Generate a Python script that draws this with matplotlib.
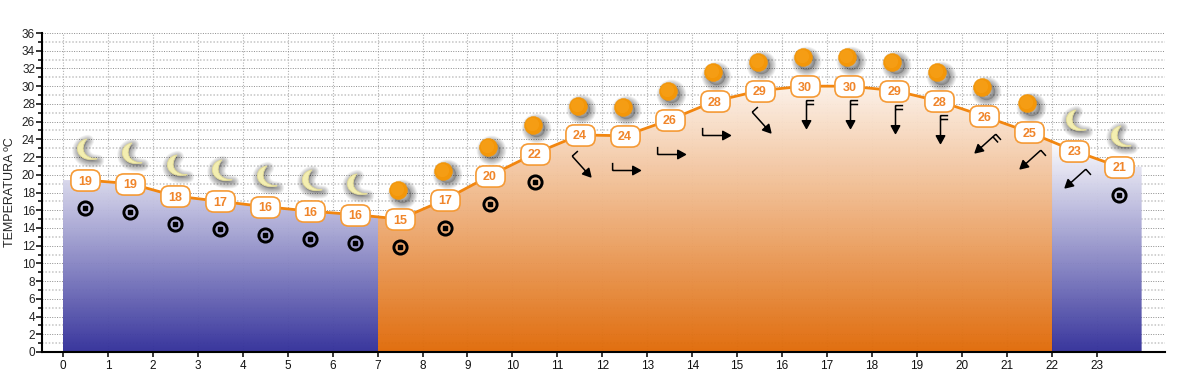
import numpy as np
import matplotlib
matplotlib.use("Agg")
import matplotlib.pyplot as plt
from matplotlib.markers import MarkerStyle
from matplotlib.patches import BoxStyle, Polygon
from matplotlib.path import Path
from matplotlib.transforms import Affine2D, ScaledTranslation

plt.rcParams['font.family'] = ['Liberation Sans', 'DejaVu Sans']

DPI = 100

hours = [h + 0.5 for h in range(24)]
temps = [19.4, 19.0, 17.6, 17.0, 16.4, 15.9, 15.5, 15.0, 17.2, 19.9, 22.4, 24.5,
         24.4, 26.2, 28.3, 29.5, 30.0, 30.0, 29.5, 28.3, 26.6, 24.8, 22.7, 20.9]
temp_labels = [19, 19, 18, 17, 16, 16, 16, 15, 17, 20, 22, 24,
               24, 26, 28, 29, 30, 30, 29, 28, 26, 25, 23, 21]
wind_dirs = [None] * 11 + ["SE", "E", "E", "E", "SE", "S", "S", "S", "S", "SW", "SW", "SW", None]
wind_barbs = [0] * 11 + [1, 1, 1, 1, 1, 2, 2, 2, 2, 2, 1, 1, 0]
SUNRISE = 7
SUNSET = 22

# pixels under the label, the picture places each direction a bit differently
WIND_DROP = {"E": 34, "SE": 31, "S": 28, "SW": 27}
WIND_ANGLE = {"E": 0, "SE": -48, "S": -90, "SW": -138}


def shifted(ax, dx, dy):
    return ax.transData + ScaledTranslation(dx / DPI, dy / DPI, fig.dpi_scale_trans)


def gradient(bottom, top, ymax):
    c0 = np.array(matplotlib.colors.to_rgb(bottom))
    c1 = np.array(matplotlib.colors.to_rgb(top))
    t = np.linspace(0, 1, 256)[:, None]
    return (c0 + (c1 - c0) * t)[:, None, :], ymax


def moon_path():
    verts = [(0.12, 1.0), (-1.2, 0.8), (-0.95, -1.15), (1.0, -0.72),
             (0.0, -0.72), (-0.62, 0.05), (0.12, 1.0), (0.12, 1.0)]
    codes = [Path.MOVETO, Path.CURVE4, Path.CURVE4, Path.CURVE4,
             Path.CURVE4, Path.CURVE4, Path.CURVE4, Path.CLOSEPOLY]
    return Path(verts, codes)


def arrow_path(barbs):
    # shaft along +x, tail at -1, one closed head at +1
    verts = [(-1, 0), (0.6, 0), (0.45, 0.3), (1, 0), (0.45, -0.3), (0.45, 0.3)]
    codes = [Path.MOVETO, Path.LINETO, Path.MOVETO, Path.LINETO, Path.LINETO, Path.CLOSEPOLY]
    for i in range(barbs):
        tail = -1 + i * 0.28
        verts += [(tail, 0), (tail, 0.55)]
        codes += [Path.MOVETO, Path.LINETO]
    return Path(verts, codes)


def label_box():
    return BoxStyle("Round", pad=0, rounding_size=8)(-14.5, -10.5, 29, 21, 1)


def soft_shadow(xs, ys, marker, size, dx, dy):
    # stacked faint copies stand in for the blur of the original drop shadow
    for w in np.arange(9, 0, -1):
        ax.plot(xs, ys, linestyle='none', marker=marker, markersize=size, markerfacecolor='none',
                markeredgecolor='k', markeredgewidth=w, alpha=0.045, zorder=4,
                transform=shifted(ax, dx, dy))
    ax.plot(xs, ys, linestyle='none', marker=marker, markersize=size, markerfacecolor='k',
            markeredgecolor='none', alpha=0.2, zorder=4, transform=shifted(ax, dx, dy))


fig = plt.figure(figsize=(12, 3.76), dpi=DPI)
ax = fig.add_axes([42 / 1200, 24 / 376, (1165 - 42) / 1200, (352 - 33) / 376])
ax.set_xlim(-0.467, 24.52)
ax.set_ylim(0, 36)

ax.set_yticks(np.arange(0, 37, 2))
ax.set_yticks(np.arange(1, 36, 2), minor=True)
ax.set_xticks(range(0, 24))
ax.grid(True, which='major', axis='y', color='#8c8c8c', linestyle=(0, (1, 1.5)), linewidth=0.7, zorder=0)
ax.grid(True, which='minor', axis='y', color='#c4c4c4', linestyle=(0, (1, 1.2)), linewidth=1.1, zorder=0)
ax.grid(True, which='major', axis='x', color='#b0b0b0', linestyle=(0, (1, 1.5)), linewidth=0.8, zorder=0)
ax.set_axisbelow(True)

ax.spines['top'].set_visible(False)
ax.spines['right'].set_visible(False)
ax.spines['left'].set_linewidth(1.5)
ax.spines['bottom'].set_linewidth(1.5)
ax.tick_params(axis='y', which='major', length=4.5, width=1.1, labelsize=8.5, pad=0.5, labelcolor='#222222')
ax.tick_params(axis='y', which='minor', length=3, width=1.1)
ax.tick_params(axis='x', which='both', length=3.5, width=1.1, labelsize=8.5, pad=2, labelcolor='#111111')
ax.set_ylabel("TEMPERATURA ºC", fontsize=9, color='#222222', labelpad=0)
ax.yaxis.set_label_coords(-26 / 1123, 0.5)

# area under the line, one vertical fade for night and one for day
area_x = [0] + hours + [24]
area_y = [temps[0]] + temps + [temps[-1]]
area = Polygon(list(zip(area_x, area_y)) + [(24, 0), (0, 0)], closed=True,
               transform=ax.transData, facecolor='none', edgecolor='none')
ax.add_patch(area)
night, night_top = gradient('#33309a', '#ffffff', 24)
day, day_top = gradient('#e06a08', '#ffffff', 33)
for x0, x1, img, top in [(0, SUNRISE, night, night_top), (SUNRISE, SUNSET, day, day_top),
                         (SUNSET, 24, night, night_top)]:
    im = ax.imshow(img, extent=[x0, x1, 0, top], origin='lower', aspect='auto',
                   interpolation='bilinear', alpha=0.97, zorder=1)
    im.set_clip_path(area)
ax.set_xlim(-0.467, 24.52)
ax.set_ylim(0, 36)

ax.plot(hours, temps, color='#f2860f', linewidth=2.0, zorder=3, solid_capstyle='round')

# sky icons about 30 px above the labels
is_day = [SUNRISE <= h < SUNSET for h in hours]
moon_x = [h for h, d in zip(hours, is_day) if not d]
moon_y = [t for t, d in zip(temps, is_day) if not d]
sun_x = [h for h, d in zip(hours, is_day) if d]
sun_y = [t for t, d in zip(temps, is_day) if d]

soft_shadow(moon_x, moon_y, moon_path(), 19.9, 1, 28)
soft_shadow(sun_x, sun_y, 'o', 12.5, 1.5, 25.5)
ax.plot(moon_x, moon_y, linestyle='none', marker=moon_path(), markersize=19.9, markerfacecolor='#f3eeb0',
        markeredgecolor='#e4dc98', markeredgewidth=0.6, zorder=5, transform=shifted(ax, 0, 30))
ax.plot(sun_x, sun_y, linestyle='none', marker='o', markersize=13, markerfacecolor='#f39608',
        markeredgecolor='#f39608', markeredgewidth=0.3, zorder=5, transform=shifted(ax, -2, 29))
ax.plot(sun_x, sun_y, linestyle='none', marker='o', markersize=9.5, markerfacecolor='#f7a11a',
        markeredgecolor='none', alpha=0.7, zorder=5, transform=shifted(ax, -3, 30))

# wind: ring for calm, barbed arrow otherwise
for h, t, d, b in zip(hours, temps, wind_dirs, wind_barbs):
    if d is None:
        ax.plot([h], [t], linestyle='none', marker='o', markersize=9.5, markerfacecolor='none',
                markeredgecolor='k', markeredgewidth=2.1, zorder=4, transform=shifted(ax, 0, -28))
        ax.plot([h], [t], linestyle='none', marker='s', markersize=3.3, color='k', zorder=4,
                transform=shifted(ax, 0, -28))
    else:
        m = MarkerStyle(arrow_path(b), transform=Affine2D().rotate_deg(WIND_ANGLE[d]))
        ax.plot([h], [t], linestyle='none', marker=m, markersize=20, markerfacecolor='k',
                markeredgecolor='k', markeredgewidth=1.1, zorder=4,
                transform=shifted(ax, 1, -WIND_DROP[d]))

# value labels
ax.plot(hours, temps, linestyle='none', marker=label_box(), markersize=21, markerfacecolor='white',
        markeredgecolor='#f59a35', markeredgewidth=1.2, zorder=6)
for h, t, v in zip(hours, temps, temp_labels):
    ax.text(h, t, str(v), ha='center', va='center_baseline', fontsize=9, fontweight='bold',
            color='#f0852a', zorder=7)

fig.savefig("out.png", dpi=DPI)
